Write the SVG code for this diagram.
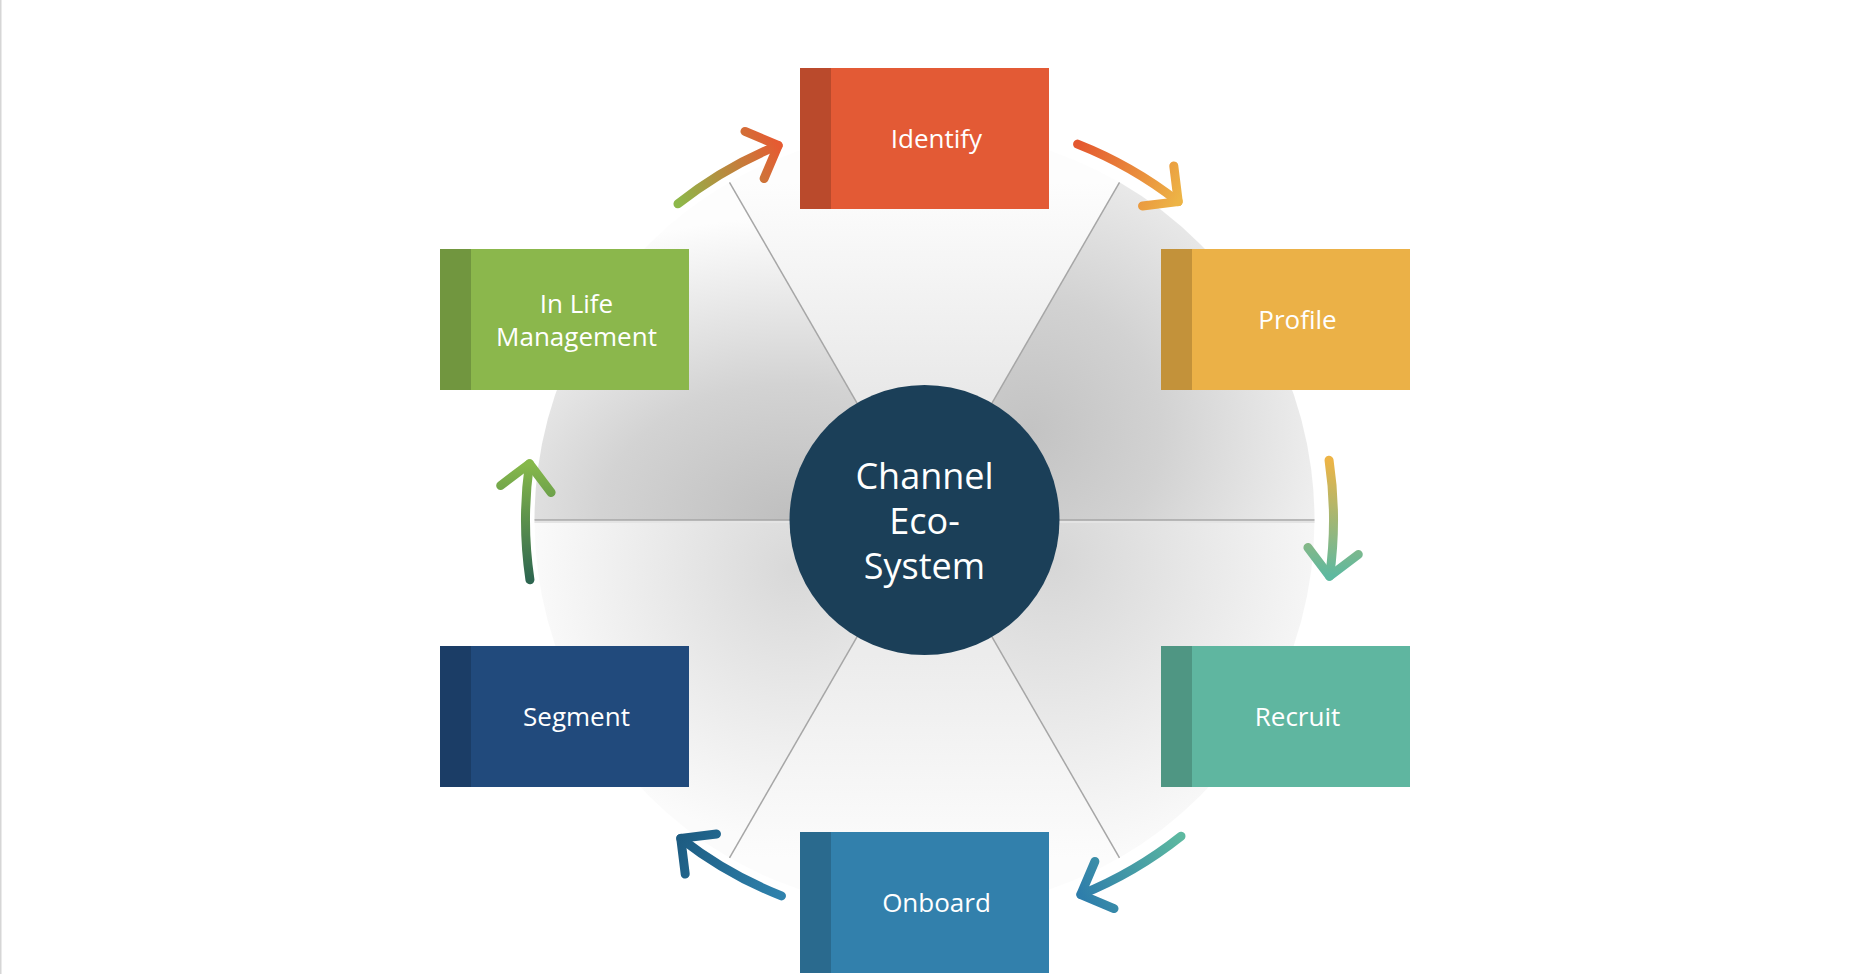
<svg xmlns="http://www.w3.org/2000/svg" width="1849" height="974" viewBox="0 0 1849 974">
  <style>
    .lbl { font-family: "Open Sans", "Noto Sans", sans-serif; font-size: 26px; fill: #ffffff; text-anchor: middle; }
    .ctr { font-family: "Open Sans", "Noto Sans", sans-serif; font-size: 36px; fill: #ffffff; text-anchor: middle; }
    .spoke { stroke: #a6a6a6; stroke-width: 1.5; fill: none; }
    .arr { fill: none; stroke-width: 9; stroke-linecap: round; stroke-linejoin: round; }
  </style>
  <defs>
    <radialGradient id="gUL" gradientUnits="userSpaceOnUse" cx="790" cy="520" r="420" gradientTransform="translate(790,520) scale(1,0.72) translate(-790,-520)">
      <stop offset="0" stop-color="#bfbfbf"/>
      <stop offset="0.45" stop-color="#d3d3d3"/>
      <stop offset="1" stop-color="#fdfdfd"/>
    </radialGradient>
    <linearGradient id="gTop" gradientUnits="userSpaceOnUse" x1="924" y1="182" x2="924" y2="390">
      <stop offset="0" stop-color="#fdfdfd"/>
      <stop offset="1" stop-color="#e9e9e9"/>
    </linearGradient>
    <radialGradient id="gUR" gradientUnits="userSpaceOnUse" cx="1030" cy="430" r="330">
      <stop offset="0" stop-color="#c3c3c3"/>
      <stop offset="0.4" stop-color="#d2d2d2"/>
      <stop offset="1" stop-color="#f5f5f5"/>
    </radialGradient>
    <radialGradient id="gLR" gradientUnits="userSpaceOnUse" cx="1050" cy="560" r="300">
      <stop offset="0" stop-color="#d6d6d6"/>
      <stop offset="1" stop-color="#fafafa"/>
    </radialGradient>
    <linearGradient id="gBot" gradientUnits="userSpaceOnUse" x1="924" y1="655" x2="924" y2="858">
      <stop offset="0" stop-color="#ececec"/>
      <stop offset="1" stop-color="#fcfcfc"/>
    </linearGradient>
    <radialGradient id="gLL" gradientUnits="userSpaceOnUse" cx="795" cy="570" r="270">
      <stop offset="0" stop-color="#d8d8d8"/>
      <stop offset="1" stop-color="#fbfbfb"/>
    </radialGradient>
    <linearGradient id="a1" gradientUnits="userSpaceOnUse" x1="1329" y1="460" x2="1329" y2="576">
      <stop offset="0" stop-color="#8db84a"/>
      <stop offset="1" stop-color="#e55b32"/>
    </linearGradient>
    <linearGradient id="a2" gradientUnits="userSpaceOnUse" x1="1329" y1="460" x2="1329" y2="576">
      <stop offset="0" stop-color="#e4572f"/>
      <stop offset="1" stop-color="#edb446"/>
    </linearGradient>
    <linearGradient id="a3" gradientUnits="userSpaceOnUse" x1="1329" y1="460" x2="1329" y2="576">
      <stop offset="0" stop-color="#edb446"/>
      <stop offset="1" stop-color="#5db9a0"/>
    </linearGradient>
    <linearGradient id="a4" gradientUnits="userSpaceOnUse" x1="1329" y1="460" x2="1329" y2="576">
      <stop offset="0" stop-color="#5db9a0"/>
      <stop offset="1" stop-color="#2e7eab"/>
    </linearGradient>
    <linearGradient id="a5" gradientUnits="userSpaceOnUse" x1="1329" y1="460" x2="1329" y2="576">
      <stop offset="0" stop-color="#2f82ad"/>
      <stop offset="1" stop-color="#1d5c82"/>
    </linearGradient>
    <linearGradient id="a6" gradientUnits="userSpaceOnUse" x1="1329" y1="460" x2="1329" y2="576">
      <stop offset="0" stop-color="#2e6650"/>
      <stop offset="1" stop-color="#86b84a"/>
    </linearGradient>
  </defs>

  <rect x="0" y="0" width="1849" height="974" fill="#ffffff"/>
  <line x1="0.75" y1="0" x2="0.75" y2="974" stroke="#d6d6d6" stroke-width="1.5"/>

  <g id="background-disc">
    <path d="M924.5,520 L534.5,520 A390,390 0 0 1 729.5,182.25 Z" fill="url(#gUL)"/>
    <path d="M924.5,520 L729.5,182.25 A390,390 0 0 1 1119.5,182.25 Z" fill="url(#gTop)"/>
    <path d="M924.5,520 L1119.5,182.25 A390,390 0 0 1 1314.5,520 Z" fill="url(#gUR)"/>
    <path d="M924.5,520 L1314.5,520 A390,390 0 0 1 1119.5,857.75 Z" fill="url(#gLR)"/>
    <path d="M924.5,520 L1119.5,857.75 A390,390 0 0 1 729.5,857.75 Z" fill="url(#gBot)"/>
    <path d="M924.5,520 L729.5,857.75 A390,390 0 0 1 534.5,520 Z" fill="url(#gLL)"/>
    <line x1="534.5" y1="522" x2="1314.5" y2="522" stroke="#e4e4e4" stroke-width="2"/>
    <line class="spoke" x1="534.5" y1="520" x2="1314.5" y2="520"/>
    <line class="spoke" x1="729.5" y1="182.25" x2="1119.5" y2="857.75"/>
    <line class="spoke" x1="1119.5" y1="182.25" x2="729.5" y2="857.75"/>
  </g>

  <g id="connectors">
    <g transform="rotate(240 929.5 520)" stroke="url(#a1)">
      <path class="arr" d="M1329.06,460.28 A404,404 0 0 1 1329.57,576.23"/>
      <path class="arr" d="M1307.9,547.5 L1329.57,576.23 L1358.3,554.5"/>
    </g>
    <g transform="rotate(300 929.5 520)" stroke="url(#a2)">
      <path class="arr" d="M1329.06,460.28 A404,404 0 0 1 1329.57,576.23"/>
      <path class="arr" d="M1307.9,547.5 L1329.57,576.23 L1358.3,554.5"/>
    </g>
    <g transform="rotate(0 929.5 520)" stroke="url(#a3)">
      <path class="arr" d="M1329.06,460.28 A404,404 0 0 1 1329.57,576.23"/>
      <path class="arr" d="M1307.9,547.5 L1329.57,576.23 L1358.3,554.5"/>
    </g>
    <g transform="rotate(60 929.5 520)" stroke="url(#a4)">
      <path class="arr" d="M1329.06,460.28 A404,404 0 0 1 1329.57,576.23"/>
      <path class="arr" d="M1307.9,547.5 L1329.57,576.23 L1358.3,554.5"/>
    </g>
    <g transform="rotate(120 929.5 520)" stroke="url(#a5)">
      <path class="arr" d="M1329.06,460.28 A404,404 0 0 1 1329.57,576.23"/>
      <path class="arr" d="M1307.9,547.5 L1329.57,576.23 L1358.3,554.5"/>
    </g>
    <g transform="rotate(180 929.5 520)" stroke="url(#a6)">
      <path class="arr" d="M1329.06,460.28 A404,404 0 0 1 1329.57,576.23"/>
      <path class="arr" d="M1307.9,547.5 L1329.57,576.23 L1358.3,554.5"/>
    </g>
  </g>

  <g id="center">
    <circle cx="924.5" cy="520" r="135" fill="#1b3f58"/>
    <text class="ctr" x="924.5" y="489">Channel</text>
    <text class="ctr" x="924.5" y="534">Eco-</text>
    <text class="ctr" x="924.5" y="579">System</text>
  </g>

  <g id="identify">
    <rect x="800" y="68" width="249" height="141" fill="#e35a35"/>
    <rect x="800" y="68" width="31" height="141" fill="#ba4a2c"/>
    <text class="lbl" x="936.5" y="148">Identify</text>
  </g>
  <g id="profile">
    <rect x="1161" y="249" width="249" height="141" fill="#ebb147"/>
    <rect x="1161" y="249" width="31" height="141" fill="#c3923a"/>
    <text class="lbl" x="1297.5" y="329">Profile</text>
  </g>
  <g id="recruit">
    <rect x="1161" y="646" width="249" height="141" fill="#5fb6a0"/>
    <rect x="1161" y="646" width="31" height="141" fill="#4f9683"/>
    <text class="lbl" x="1297.5" y="726">Recruit</text>
  </g>
  <g id="onboard">
    <rect x="800" y="832" width="249" height="141" fill="#3280ac"/>
    <rect x="800" y="832" width="31" height="141" fill="#2a6a8e"/>
    <text class="lbl" x="936.5" y="912">Onboard</text>
  </g>
  <g id="segment">
    <rect x="440" y="646" width="249" height="141" fill="#214a7c"/>
    <rect x="440" y="646" width="31" height="141" fill="#1b3d66"/>
    <text class="lbl" x="576.5" y="726">Segment</text>
  </g>
  <g id="in-life-management">
    <rect x="440" y="249" width="249" height="141" fill="#8bb74c"/>
    <rect x="440" y="249" width="31" height="141" fill="#71963f"/>
    <text class="lbl" x="576.5" y="313">In Life</text>
    <text class="lbl" x="576.5" y="346">Management</text>
  </g>
</svg>
